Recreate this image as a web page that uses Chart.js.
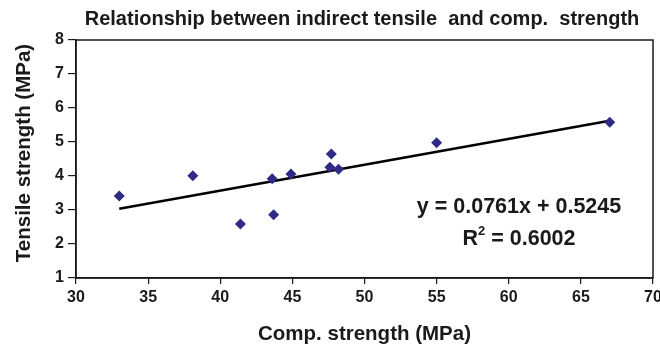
<!DOCTYPE html>
<html>
<head>
<meta charset="utf-8">
<script src="https://cdn.jsdelivr.net/npm/chart.js@4"></script>
<style>
  html, body { margin: 0; padding: 0; background: #fff; }
  #wrap { width: 660px; height: 347px; }
</style>
</head>
<body>
<div id="wrap"><canvas id="strengthChart" width="660" height="347"></canvas></div>
<script>
// compressive strength (MPa) vs indirect tensile strength (MPa)
const compStrength = [33.0, 38.1, 41.4, 43.6, 43.7, 44.9, 47.7, 47.6, 48.2, 55.0, 67.0];
const tensileStrength = [3.41, 4.01, 2.59, 3.92, 2.86, 4.06, 4.65, 4.26, 4.20, 4.98, 5.58];

// linear trend line as printed on the chart
const slope = 0.0761;
const intercept = 0.5245;
const rSquared = '0.6002';
const trendX = [33.0, 67.0];

const chartTitle = 'Relationship between indirect tensile  and comp.  strength';
const yTitle = 'Tensile strength (MPa)';

const FONT = "'Liberation Sans', Arial, sans-serif";
const INK = '#1a1a1a';

const trendPoints = trendX.map(x => ({ x: x, y: slope * x + intercept }));
const scatterPoints = compStrength.map((x, i) => ({ x: x, y: tensileStrength[i] }));

const boxAndLabel = {
  id: 'boxAndLabel',
  afterDatasetsDraw(chart) {
    const { ctx, chartArea: a } = chart;
    ctx.save();
    ctx.strokeStyle = INK;
    ctx.lineWidth = 1.5;
    ctx.strokeRect(a.left, a.top, a.right - a.left, a.bottom - a.top);

    ctx.fillStyle = INK;

    // chart title
    ctx.textAlign = 'center';
    ctx.textBaseline = 'alphabetic';
    ctx.font = 'bold 20px ' + FONT;
    ctx.fillText(chartTitle, 362, 25);

    // y axis title
    ctx.save();
    ctx.translate(30, 153);
    ctx.rotate(-Math.PI / 2);
    ctx.font = 'bold 20.5px ' + FONT;
    ctx.fillText(yTitle, 0, 0);
    ctx.restore();

    // trend equation
    ctx.font = 'bold 21.5px ' + FONT;
    const cx = 519;
    ctx.fillText('y = ' + slope + 'x + ' + intercept, cx, 213);

    // R² with a raised small 2
    const rest = ' = ' + rSquared;
    const wR = ctx.measureText('R').width;
    const wRest = ctx.measureText(rest).width;
    ctx.font = 'bold 13px ' + FONT;
    const w2 = ctx.measureText('2').width;
    const x0 = cx - (wR + w2 + wRest) / 2;
    ctx.textAlign = 'left';
    ctx.font = 'bold 21.5px ' + FONT;
    ctx.fillText('R', x0, 245);
    ctx.font = 'bold 13px ' + FONT;
    ctx.fillText('2', x0 + wR, 235);
    ctx.font = 'bold 21.5px ' + FONT;
    ctx.fillText(rest, x0 + wR + w2, 245);
    ctx.restore();
  }
};

new Chart(document.getElementById('strengthChart'), {
  type: 'scatter',
  data: {
    datasets: [
      {
        type: 'line',
        data: trendPoints,
        borderColor: '#000',
        borderWidth: 2.6,
        pointRadius: 0,
        fill: false,
        order: 2
      },
      {
        data: scatterPoints,
        pointStyle: 'rectRot',
        pointRadius: 5.5,
        backgroundColor: '#2e2a86',
        borderColor: '#2e2a86',
        borderWidth: 0,
        order: 1
      }
    ]
  },
  plugins: [boxAndLabel],
  options: {
    responsive: false,
    animation: false,
    devicePixelRatio: 1,
    layout: { padding: { left: 0, right: 7, top: 40, bottom: 0 } },
    plugins: {
      legend: { display: false },
      tooltip: { enabled: false },
      title: { display: false }
    },
    scales: {
      x: {
        type: 'linear',
        min: 30,
        max: 70,
        afterFit(scale) { scale.height = 69; scale.paddingLeft = 0; scale.paddingRight = 0; },
        ticks: {
          stepSize: 5,
          color: INK,
          padding: 4,
          font: { family: FONT, size: 16, weight: 'bold' }
        },
        grid: { drawOnChartArea: false, tickLength: 6, color: INK, lineWidth: 1.2 },
        border: { color: INK, width: 1.5 },
        title: {
          display: true,
          text: 'Comp. strength (MPa)',
          color: INK,
          font: { family: FONT, size: 20.5, weight: 'bold' },
          padding: { top: 1, bottom: 0 }
        }
      },
      y: {
        type: 'linear',
        min: 1,
        max: 8,
        afterFit(scale) { scale.width = 76; scale.paddingTop = 0; scale.paddingBottom = 0; },
        ticks: {
          stepSize: 1,
          color: INK,
          padding: 4,
          font: { family: FONT, size: 16, weight: 'bold' }
        },
        grid: { drawOnChartArea: false, tickLength: 8, color: INK, lineWidth: 1.2 },
        border: { color: INK, width: 1.5 }
      }
    }
  }
});
</script>
</body>
</html>
